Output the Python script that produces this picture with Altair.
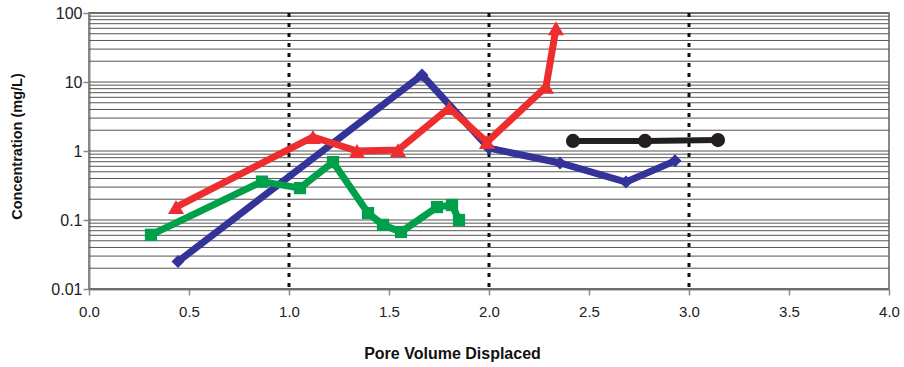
import altair as alt
import pandas as pd

# ---- data ----
blue_x = [0.445, 1.665, 2.0, 2.355, 2.685, 2.93]
blue_y = [0.025, 12.6, 1.1, 0.67, 0.355, 0.72]

red_x = [0.435, 1.12, 1.34, 1.545, 1.80, 1.99, 2.285, 2.335]
red_y = [0.154, 1.6, 1.0, 1.03, 4.2, 1.35, 8.5, 60.0]

green_x = [0.31, 0.865, 1.055, 1.22, 1.395, 1.47, 1.56, 1.74, 1.815, 1.85]
green_y = [0.061, 0.36, 0.29, 0.69, 0.126, 0.085, 0.067, 0.154, 0.165, 0.10]

black_x = [2.42, 2.78, 3.145]
black_y = [1.4, 1.4, 1.44]

series_names = ["blue", "green", "red", "black"]
series_colors = ["#333399", "#00A04A", "#EE2D2F", "#231F20"]
series_shapes = ["diamond", "square", "triangle-up", "circle"]
series_sizes = [170, 150, 260, 200]
series_widths = [7, 7, 7, 6]

y_ticks = [0.01, 0.1, 1, 10, 100]
x_ticks = [0.0, 0.5, 1.0, 1.5, 2.0, 2.5, 3.0, 3.5, 4.0]
dotted_x = [1.0, 2.0, 3.0]
grid_y = [m * d for d in [0.01, 0.1, 1, 10] for m in range(1, 10)] + [100]

series_data = {"blue": (blue_x, blue_y), "green": (green_x, green_y),
               "red": (red_x, red_y), "black": (black_x, black_y)}

xscale = alt.Scale(domain=[0, 4], nice=False, zero=False)
yscale = alt.Scale(type="log", domain=[0.01, 100], nice=False)

FONT = "Liberation Sans"

xaxis = alt.Axis(values=x_ticks, format=".1f", title="Pore Volume Displaced",
                 grid=False, tickSize=6, tickColor="#888888", domainColor="#888888",
                 domainWidth=2, tickWidth=1.5, labelFlush=False,
                 labelFont=FONT, labelFontSize=15, labelColor="#222222", labelPadding=9,
                 titleFont=FONT, titleFontSize=16, titleFontWeight="bold",
                 titleColor="#111111", titleX=363, titleY=64, titleBaseline="middle",
                 titleAnchor="start", titleAlign="center")
yaxis = alt.Axis(values=y_ticks, title="Concentration (mg/L)",
                 labelExpr="datum.value >= 1 ? format(datum.value, 'd') : format(datum.value, '.2~f')",
                 grid=False, tickSize=6, tickColor="#888888", domainColor="#888888",
                 domainWidth=2, tickWidth=1.5, labelFlush=False,
                 labelFont=FONT, labelFontSize=16, labelColor="#222222", labelPadding=1,
                 titleFont=FONT, titleFontSize=14.5, titleFontWeight="bold",
                 titleColor="#111111", titleX=-72, titleY=133, titleAngle=-90,
                 titleBaseline="middle", titleAlign="center", titleAnchor="start")

grid = alt.Chart(pd.DataFrame({"g": grid_y})).mark_rule(color="#555555", strokeWidth=1).encode(
    y=alt.Y("g:Q", scale=yscale, axis=yaxis)
)

dotted = alt.Chart(pd.DataFrame({"d": dotted_x})).mark_rule(
    color="#111111", strokeWidth=3, strokeDash=[4, 6]
).encode(x=alt.X("d:Q", scale=xscale, axis=xaxis))

layers = [grid, dotted]
for i, name in enumerate(series_names):
    xs, ys = series_data[name]
    df = pd.DataFrame({"x": xs, "y": ys, "order": list(range(len(xs)))})
    base = alt.Chart(df).encode(
        x=alt.X("x:Q", scale=xscale, axis=xaxis),
        y=alt.Y("y:Q", scale=yscale, axis=yaxis),
        order="order:Q",
    )
    line = base.mark_line(color=series_colors[i], strokeWidth=series_widths[i])
    pts = base.mark_point(shape=series_shapes[i], filled=True, opacity=1,
                          color=series_colors[i], size=series_sizes[i])
    layers += [line, pts]

chart = alt.layer(*layers).properties(
    width=800, height=276,
    autosize=alt.AutoSizeParams(type="none"),
    padding={"left": 89, "top": 13, "right": 15, "bottom": 78},
    background="white",
).configure_view(stroke="#888888", strokeWidth=2)

chart.save("out.html", embed_options={"renderer": "svg", "actions": False})
